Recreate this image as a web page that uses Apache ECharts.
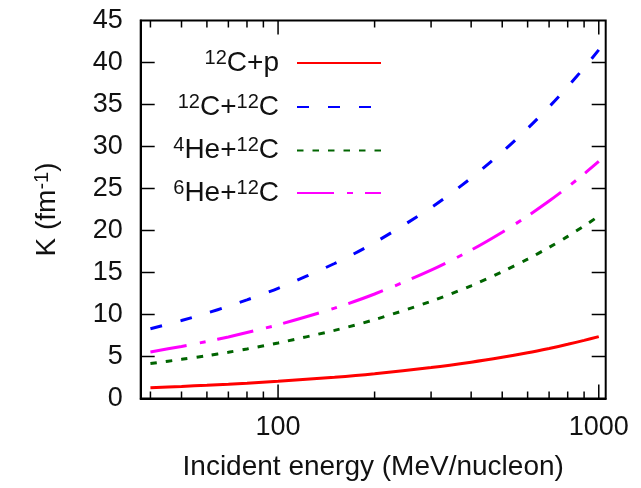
<!DOCTYPE html>
<html>
<head>
<meta charset="utf-8">
<script src="https://cdn.jsdelivr.net/npm/echarts@6/dist/echarts.min.js"></script>
<style>
html,body{margin:0;padding:0;background:#fff;}
#chart{width:641px;height:488px;}
</style>
</head>
<body>
<div id="chart"></div>
<script>
// Incident energy (MeV/nucleon)
const energies = [40, 50, 60, 70, 80, 100, 150, 200, 300, 400, 500, 600, 700, 800, 900, 1000];
// K (fm^-1) for each system
const k_12Cp    = [1.29, 1.44, 1.58, 1.71, 1.83, 2.06, 2.54, 2.96, 3.69, 4.32, 4.90, 5.44, 5.96, 6.45, 6.92, 7.37];
const k_12C12C  = [8.30, 9.28, 10.17, 10.98, 11.74, 13.12, 16.07, 18.56, 22.73, 26.25, 29.35, 32.15, 34.72, 37.12, 39.37, 41.50];
const k_4He12C  = [4.16, 4.66, 5.10, 5.51, 5.90, 6.61, 8.11, 9.39, 11.57, 13.42, 15.08, 16.59, 17.99, 19.30, 20.54, 21.72];
const k_6He12C  = [5.54, 6.20, 6.79, 7.33, 7.85, 8.78, 10.76, 12.44, 15.27, 17.67, 19.80, 21.73, 23.51, 25.17, 26.74, 28.22];

const seriesNames = ['12C+p', '12C+12C', '4He+12C', '6He+12C'];
const seriesLabels = ['{sup|12}{n|C+p}', '{sup|12}{n|C+}{sup|12}{n|C}', '{sup|4}{n|He+}{sup|12}{n|C}', '{sup|6}{n|He+}{sup|12}{n|C}'];
const seriesValues = [k_12Cp, k_12C12C, k_4He12C, k_6He12C];

// axis ticks
const xMajorTicks = [100, 1000];
const xMinorTicks = [40, 50, 60, 70, 80, 90, 200, 300, 400, 500, 600, 700, 800, 900];
const yTicks = [5, 10, 15, 20, 25, 30, 35, 40];
const xMin = 37.3, xMax = 1051;
const yMin = 0, yMax = 45, yStep = 5;

const colors = ['#ff0000', '#0000ff', '#006400', '#ff00ff'];
const dashes = ['solid', [12, 19], [6.5, 9], [37, 13, 6, 12]];

const FONT = '"Liberation Sans", Arial, sans-serif';
const TXT = '#111';
const richText = {
  n: {fontSize: 28, fontFamily: FONT, color: TXT, lineHeight: 30},
  sup: {fontSize: 20, fontFamily: FONT, color: TXT, verticalAlign: 'top', lineHeight: 18, padding: [0, 0, 10, 0]}
};
const MAJOR = 14, MINOR = 7;

const chart = echarts.init(document.getElementById('chart'), null, {renderer: 'canvas'});

const legends = seriesNames.map((nm, i) => ({
  data: [nm],
  orient: 'vertical',
  right: 259,
  top: [48, 92, 135.5, 178][i],
  padding: 0,
  align: 'right',
  itemWidth: 84,
  itemHeight: 14,
  selectedMode: false,
  itemStyle: {opacity: 0},
  formatter: (name) => seriesLabels[seriesNames.indexOf(name)],
  textStyle: {rich: richText, padding: [0, 13, 0, 0]}
}));

const option = {
  animation: false,
  backgroundColor: '#fff',
  grid: {left: 140.7, right: 35.3, top: 20.5, bottom: 89.5, show: true, borderColor: '#000', borderWidth: 2},
  legend: legends,
  xAxis: {
    type: 'log', logBase: 10, min: xMin, max: xMax, position: 'bottom',
    axisLine: {show: true, lineStyle: {color: '#000', width: 2}}, splitLine: {show: false}, minorTick: {show: false},
    axisTick: {show: false},
    axisLabel: {show: true, customValues: xMajorTicks, fontSize: 27, fontFamily: FONT, color: TXT, margin: 16,
                formatter: (v) => String(Math.round(v))},
    name: 'Incident energy (MeV/nucleon)', nameLocation: 'middle', nameGap: 55,
    nameTextStyle: {fontSize: 28, fontFamily: FONT, color: TXT}
  },
  yAxis: {
    type: 'value', min: yMin, max: yMax, interval: yStep, position: 'left',
    axisLine: {show: true, lineStyle: {color: '#000', width: 2}}, splitLine: {show: false},
    axisTick: {show: false},
    axisLabel: {fontSize: 27, fontFamily: FONT, color: TXT, margin: 18},
    name: '{n|K (fm}{sup|-1}{n|)}', nameLocation: 'middle', nameGap: 78,
    nameTextStyle: {rich: richText}
  },
  series: seriesNames.map((nm, i) => ({
    name: nm,
    type: 'line',
    data: energies.map((e, j) => [e, seriesValues[i][j]]),
    showSymbol: false, symbol: 'none',
    smooth: 0.3,
    color: colors[i],
    lineStyle: {color: colors[i], width: 3, type: dashes[i], cap: 'butt'}
  }))
};
chart.setOption(option);

// Mirrored inward tick marks, placed through the chart's own axis scales
const ticks = [];
function px(v) { return chart.convertToPixel({gridIndex: 0}, v); }
const xTickList = xMajorTicks.map(v => [v, MAJOR]).concat(xMinorTicks.map(v => [v, MINOR]));
xTickList.forEach(([v, len]) => {
  const a = px([v, yMin]), b = px([v, yMax]);
  ticks.push({type: 'line', silent: true, z: 100, shape: {x1: a[0], y1: a[1], x2: a[0], y2: a[1] - len}, style: {stroke: '#000', lineWidth: 1.5}});
  ticks.push({type: 'line', silent: true, z: 100, shape: {x1: b[0], y1: b[1], x2: b[0], y2: b[1] + len}, style: {stroke: '#000', lineWidth: 1.5}});
});
yTicks.forEach(v => {
  const a = px([xMin, v]), b = px([xMax, v]);
  ticks.push({type: 'line', silent: true, z: 100, shape: {x1: a[0], y1: a[1], x2: a[0] + MAJOR, y2: a[1]}, style: {stroke: '#000', lineWidth: 1.5}});
  ticks.push({type: 'line', silent: true, z: 100, shape: {x1: b[0], y1: b[1], x2: b[0] - MAJOR, y2: b[1]}, style: {stroke: '#000', lineWidth: 1.5}});
});
chart.setOption({graphic: ticks});
</script>
</body>
</html>
